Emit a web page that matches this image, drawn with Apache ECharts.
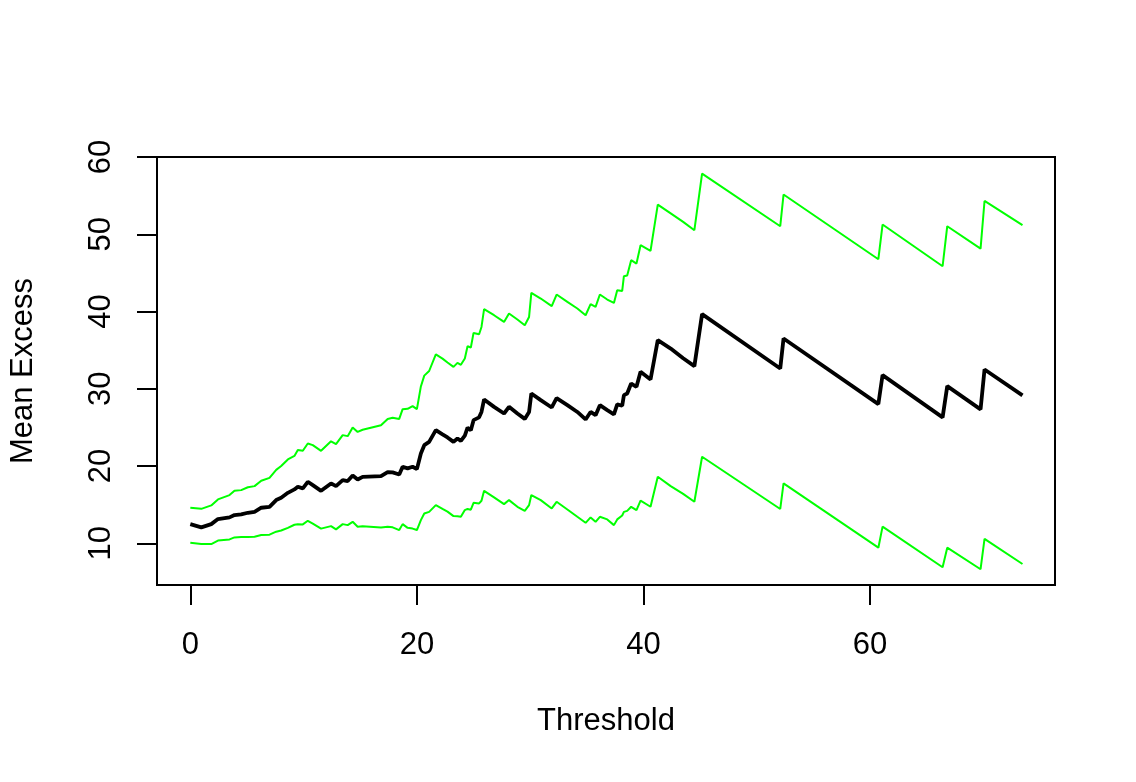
<!DOCTYPE html>
<html>
<head>
<meta charset="utf-8">
<script src="https://cdn.jsdelivr.net/npm/echarts@6/dist/echarts.min.js"></script>
<style>
html,body{margin:0;padding:0;background:#fff;}
#chart{width:1136px;height:782px;}
</style>
</head>
<body>
<div id="chart"></div>
<script>
var thresholds = [0, 0.97, 1.85, 2.44, 3.46, 3.9, 4.49, 5.08, 5.67, 6.26, 6.99, 7.58, 8.02, 8.61, 9.19, 9.49, 9.93, 10.37, 10.81, 11.54, 12.42, 12.86, 13.45, 13.89, 14.33, 14.77, 15.21, 16.83, 17.42, 17.86, 18.44, 18.74, 19.18, 19.62, 20.0, 20.35, 20.65, 21.08, 21.67, 22.26, 22.7, 23.23, 23.58, 23.88, 24.23, 24.47, 24.76, 25.0, 25.49, 25.7, 25.93, 26.81, 27.69, 28.13, 28.87, 29.52, 29.9, 30.1, 30.93, 31.9, 32.33, 33.28, 34.16, 34.89, 35.33, 35.77, 36.15, 36.8, 37.39, 37.68, 38.12, 38.27, 38.56, 38.91, 39.38, 39.74, 40.62, 41.26, 42.4, 43.5, 44.49, 45.17, 52.07, 52.36, 60.73, 61.1, 66.4, 66.81, 69.75, 70.1, 73.45];

var meanExcess = [12.48, 12.06, 12.48, 13.13, 13.35, 13.65, 13.74, 13.95, 14.07, 14.6, 14.72, 15.59, 15.89, 16.53, 16.97, 17.31, 17.1, 17.96, 17.53, 16.79, 17.75, 17.4, 18.18, 18.05, 18.78, 18.26, 18.6, 18.69, 19.21, 19.17, 18.91, 19.9, 19.69, 19.9, 19.6, 21.63, 22.7, 23.13, 24.64, 24.09, 23.7, 23.13, 23.57, 23.26, 23.95, 24.97, 24.64, 25.94, 26.3, 27.0, 28.61, 27.66, 26.8, 27.66, 26.8, 26.1, 27.0, 29.39, 28.53, 27.58, 28.78, 27.88, 27.0, 26.03, 27.0, 26.58, 27.88, 27.23, 26.69, 27.97, 27.8, 29.17, 29.39, 30.68, 30.25, 32.19, 31.2, 36.29, 35.2, 33.95, 32.93, 39.66, 32.63, 36.51, 28.02, 31.77, 26.3, 30.34, 27.33, 32.5, 29.14];

var upperBand = [14.6, 14.46, 14.9, 15.68, 16.24, 16.79, 16.88, 17.25, 17.4, 18.1, 18.47, 19.5, 20.0, 20.85, 21.3, 22.06, 21.97, 22.92, 22.7, 21.97, 23.2, 22.83, 24.0, 23.87, 24.99, 24.42, 24.7, 25.29, 26.1, 26.24, 26.1, 27.36, 27.4, 27.75, 27.36, 30.3, 31.7, 32.3, 34.44, 33.9, 33.4, 32.83, 33.35, 33.1, 33.92, 35.51, 35.34, 37.23, 37.06, 38.0, 40.3, 39.52, 38.65, 39.74, 38.96, 38.23, 39.3, 42.41, 41.68, 40.69, 42.2, 41.24, 40.39, 39.52, 40.95, 40.6, 42.2, 41.55, 41.11, 42.76, 42.67, 44.57, 44.66, 46.64, 46.21, 48.58, 47.84, 53.84, 52.7, 51.6, 50.52, 57.85, 51.04, 55.14, 46.77, 51.26, 45.86, 51.04, 48.15, 54.31, 51.17];

var lowerBand = [10.07, 9.9, 9.9, 10.35, 10.5, 10.76, 10.8, 10.82, 10.84, 11.06, 11.12, 11.5, 11.65, 12.0, 12.4, 12.46, 12.44, 12.91, 12.55, 11.9, 12.22, 11.8, 12.48, 12.35, 12.78, 12.14, 12.2, 12.05, 12.14, 12.06, 11.71, 12.48, 12.0, 11.9, 11.71, 13.0, 13.85, 14.07, 14.94, 14.45, 14.1, 13.52, 13.5, 13.43, 14.3, 14.45, 14.35, 15.24, 15.16, 15.5, 16.79, 15.94, 15.07, 15.59, 14.72, 14.2, 14.94, 16.24, 15.59, 14.51, 15.37, 14.38, 13.43, 12.65, 13.35, 12.78, 13.43, 13.09, 12.35, 13.09, 13.6, 14.07, 14.2, 14.72, 14.29, 15.51, 14.73, 18.61, 17.4, 16.4, 15.38, 21.2, 14.44, 17.76, 9.43, 12.15, 6.9, 9.43, 6.64, 10.56, 7.32];

var xTicks = [0, 20, 40, 60];
var yTicks = [10, 20, 30, 40, 50, 60];

function zip(xs, ys) {
  var out = [];
  for (var i = 0; i < xs.length; i++) out.push([xs[i], ys[i]]);
  return out;
}

var FONT = '"Liberation Sans", Arial, sans-serif';
var chart = echarts.init(document.getElementById('chart'), null, {renderer: 'canvas'});
chart.setOption({
  animation: false,
  backgroundColor: '#ffffff',
  grid: {
    left: 157, right: 81, top: 157, bottom: 197,
    show: true, borderColor: '#000', borderWidth: 2, backgroundColor: 'transparent',
    containLabel: false
  },
  xAxis: {
    type: 'value', min: -2.94, max: 76.32,
    name: 'Threshold', nameLocation: 'middle', nameGap: 121,
    nameTextStyle: {fontFamily: FONT, fontSize: 31, color: '#000'},
    axisLine: {show: false, onZero: false},
    axisTick: {show: true, customValues: xTicks, length: 20, inside: false, lineStyle: {color: '#000', width: 2}},
    axisLabel: {show: true, customValues: xTicks, margin: 45, fontFamily: FONT, fontSize: 31, color: '#000'},
    splitLine: {show: false}
  },
  yAxis: {
    type: 'value', min: 4.6, max: 60,
    name: 'Mean Excess', nameLocation: 'middle', nameGap: 118, nameRotate: 90,
    nameTextStyle: {fontFamily: FONT, fontSize: 31, color: '#000'},
    axisLine: {show: false, onZero: false},
    axisTick: {show: true, customValues: yTicks, length: 20, inside: false, lineStyle: {color: '#000', width: 2}},
    axisLabel: {show: true, customValues: yTicks, rotate: 90, margin: 40, fontFamily: FONT, fontSize: 31, color: '#000'},
    splitLine: {show: false}
  },
  series: [
    {type: 'line', data: zip(thresholds, upperBand), showSymbol: false, symbol: 'none',
     lineStyle: {color: '#00ff00', width: 2}, silent: true},
    {type: 'line', data: zip(thresholds, lowerBand), showSymbol: false, symbol: 'none',
     lineStyle: {color: '#00ff00', width: 2}, silent: true},
    {type: 'line', data: zip(thresholds, meanExcess), showSymbol: false, symbol: 'none',
     lineStyle: {color: '#000000', width: 3.8}, silent: true}
  ]
});
</script>
</body>
</html>
